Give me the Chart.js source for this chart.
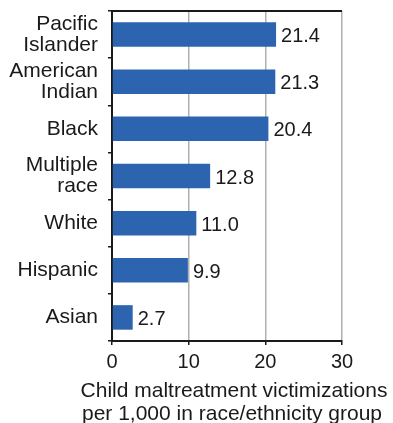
<!DOCTYPE html>
<html>
<head>
<meta charset="utf-8">
<script src="https://cdn.jsdelivr.net/npm/chart.js@4/dist/chart.umd.min.js"></script>
<style>
  html, body { margin: 0; padding: 0; background: #fff; }
  #wrap { width: 393px; height: 423px; }
</style>
</head>
<body>
<div id="wrap"><canvas id="chart"></canvas></div>
<script>
// race/ethnicity groups, top to bottom
var groups = [['Pacific', 'Islander'], ['American', 'Indian'], 'Black', ['Multiple', 'race'], 'White', 'Hispanic', 'Asian'];
// victimizations per 1,000
var rates = [21.4, 21.3, 20.4, 12.8, 11.0, 9.9, 2.7];
var xTicks = [0, 10, 20, 30];
var axisTitle = ['Child maltreatment victimizations', 'per 1,000 in race/ethnicity group'];

var fontFam = '"Liberation Sans", Arial, sans-serif';

// value labels at bar ends + top border + axis title
var extras = {
    id: 'extras',
    afterDatasetsDraw: function (chart) {
        var ctx = chart.ctx;
        var meta = chart.getDatasetMeta(0);
        ctx.save();
        ctx.font = '20px ' + fontFam;
        ctx.fillStyle = '#1a1a1a';
        ctx.textAlign = 'left';
        ctx.textBaseline = 'middle';
        meta.data.forEach(function (bar, i) {
            ctx.fillText(rates[i].toFixed(1), bar.x + 5, bar.y + 2);
        });
        ctx.restore();
    },
    afterDraw: function (chart) {
        var ctx = chart.ctx;
        var a = chart.chartArea;
        ctx.save();
        ctx.strokeStyle = '#1a1a1a';
        ctx.lineWidth = 2;
        ctx.beginPath();
        ctx.moveTo(a.left, a.top);
        ctx.lineTo(a.right, a.top);
        ctx.stroke();
        ctx.font = '21px ' + fontFam;
        ctx.fillStyle = '#1a1a1a';
        ctx.textAlign = 'center';
        ctx.textBaseline = 'middle';
        var cx = (a.left + a.right) / 2 + 5;
        ctx.fillText(axisTitle[0], cx + 2, a.bottom + 50);
        ctx.fillText(axisTitle[1], cx, a.bottom + 73);
        ctx.restore();
    }
};

var ctx = document.getElementById('chart').getContext('2d');
new Chart(ctx, {
    type: 'bar',
    data: {
        labels: groups,
        datasets: [{
            data: rates,
            backgroundColor: '#2d64af',
            barPercentage: 0.52,
            categoryPercentage: 1.0
        }]
    },
    options: {
        indexAxis: 'y',
        responsive: true,
        maintainAspectRatio: false,
        animation: false,
        layout: { padding: { top: 11, right: 51, left: 0, bottom: 0 } },
        plugins: { legend: { display: false }, tooltip: { enabled: false } },
        scales: {
            x: {
                min: 0, max: 30,
                afterBuildTicks: function (axis) {
                    axis.ticks = xTicks.map(function (v) { return { value: v }; });
                },
                afterFit: function (axis) { axis.height = 82; axis.paddingRight = 0; },
                grid: { color: '#b0b0b0', lineWidth: 1.5, tickColor: '#1a1a1a', tickLength: 4 },
                border: { color: '#1a1a1a', width: 2 },
                ticks: { color: '#1a1a1a', padding: 5, font: { family: fontFam, size: 20 } }
            },
            y: {
                afterFit: function (axis) {
                    axis.width = 112;
                    axis.paddingTop = 0;
                    axis.paddingBottom = 0;
                },
                grid: { offset: true, drawOnChartArea: false, color: '#1a1a1a', tickLength: 4, lineWidth: 1.5 },
                border: { color: '#1a1a1a', width: 2 },
                ticks: { color: '#1a1a1a', padding: 10, font: { family: fontFam, size: 21, lineHeight: 1.0 } }
            }
        }
    },
    plugins: [extras]
});
</script>
</body>
</html>
